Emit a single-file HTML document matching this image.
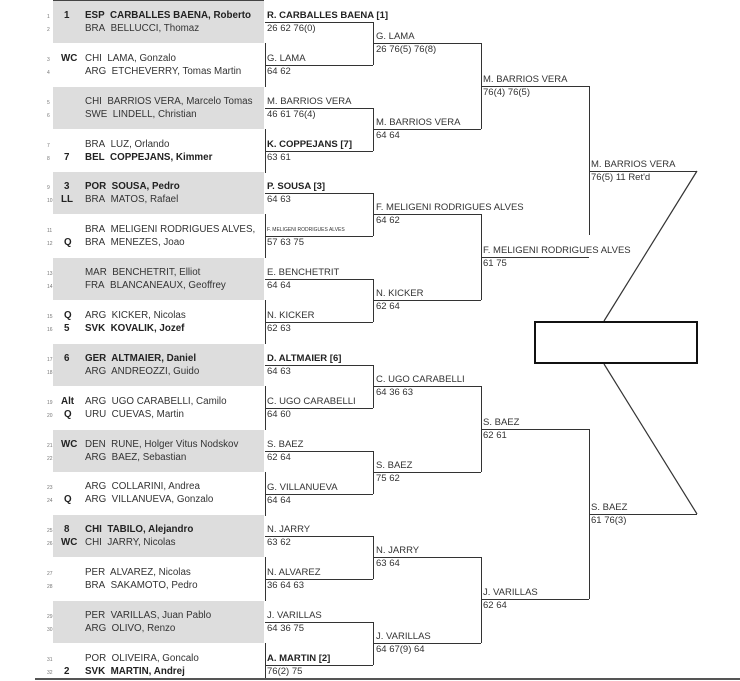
<!DOCTYPE html>
<html><head><meta charset="utf-8"><style>
*{margin:0;padding:0;box-sizing:border-box}
body{width:740px;height:681px;background:#fff;position:relative;overflow:hidden;font-family:"Liberation Sans",sans-serif;color:#333}
.t{position:absolute;font-size:9.5px;line-height:12px;white-space:nowrap}
.p{font-size:9.8px}
.n{position:absolute;font-size:5px;color:#777;line-height:6px}
.b{font-weight:bold;color:#222}
.band{position:absolute;left:53px;width:211px;height:42px;background:#ddd}
.h{position:absolute;height:0;border-top:1.3px solid #333}
.v{position:absolute;width:0;border-left:1.3px solid #333}
</style></head><body>
<div style="position:absolute;left:53px;top:0;width:211px;height:2px;background:#444"></div>
<div id="c"></div>
<div style="position:absolute;left:35px;top:678px;width:705px;height:3px;background:#fff;border-top:2px solid #555"></div>
<svg style="position:absolute;left:0;top:0" width="740" height="681">
<line x1="697" y1="171" x2="604" y2="321" stroke="#333" stroke-width="1.2"/>
<line x1="604" y1="364" x2="697" y2="514" stroke="#333" stroke-width="1.2"/>
<rect x="535" y="322" width="162" height="41" fill="none" stroke="#111" stroke-width="2"/>
</svg>
<script>
var P=[["1","ESP","CARBALLES BAENA, Roberto",1],["","BRA","BELLUCCI, Thomaz",0],["WC","CHI","LAMA, Gonzalo",0],["","ARG","ETCHEVERRY, Tomas Martin",0],
["","CHI","BARRIOS VERA, Marcelo Tomas",0],["","SWE","LINDELL, Christian",0],["","BRA","LUZ, Orlando",0],["7","BEL","COPPEJANS, Kimmer",1],
["3","POR","SOUSA, Pedro",1],["LL","BRA","MATOS, Rafael",0],["","BRA","MELIGENI RODRIGUES ALVES,",0],["Q","BRA","MENEZES, Joao",0],
["","MAR","BENCHETRIT, Elliot",0],["","FRA","BLANCANEAUX, Geoffrey",0],["Q","ARG","KICKER, Nicolas",0],["5","SVK","KOVALIK, Jozef",1],
["6","GER","ALTMAIER, Daniel",1],["","ARG","ANDREOZZI, Guido",0],["Alt","ARG","UGO CARABELLI, Camilo",0],["Q","URU","CUEVAS, Martin",0],
["WC","DEN","RUNE, Holger Vitus Nodskov",0],["","ARG","BAEZ, Sebastian",0],["","ARG","COLLARINI, Andrea",0],["Q","ARG","VILLANUEVA, Gonzalo",0],
["8","CHI","TABILO, Alejandro",1],["WC","CHI","JARRY, Nicolas",0],["","PER","ALVAREZ, Nicolas",0],["","BRA","SAKAMOTO, Pedro",0],
["","PER","VARILLAS, Juan Pablo",0],["","ARG","OLIVO, Renzo",0],["","POR","OLIVEIRA, Goncalo",0],["2","SVK","MARTIN, Andrej",1]];
var R1=[["R. CARBALLES BAENA [1]","26 62 76(0)",1],["G. LAMA","64 62"],["M. BARRIOS VERA","46 61 76(4)"],["K. COPPEJANS [7]","63 61",1],
["P. SOUSA [3]","64 63",1],["F. MELIGENI RODRIGUES ALVES","57 63 75",2],["E. BENCHETRIT","64 64"],["N. KICKER","62 63"],
["D. ALTMAIER [6]","64 63",1],["C. UGO CARABELLI","64 60"],["S. BAEZ","62 64"],["G. VILLANUEVA","64 64"],
["N. JARRY","63 62"],["N. ALVAREZ","36 64 63"],["J. VARILLAS","64 36 75"],["A. MARTIN [2]","76(2) 75",1]];
var R2=[["G. LAMA","26 76(5) 76(8)"],["M. BARRIOS VERA","64 64"],["F. MELIGENI RODRIGUES ALVES","64 62"],["N. KICKER","62 64"],
["C. UGO CARABELLI","64 36 63"],["S. BAEZ","75 62"],["N. JARRY","63 64"],["J. VARILLAS","64 67(9) 64"]];
var R3=[["M. BARRIOS VERA","76(4) 76(5)",86],["F. MELIGENI RODRIGUES ALVES","61 75",257],["S. BAEZ","62 61",429],["J. VARILLAS","62 64",599]];
var h="";
function t(x,y,s,c){h+='<div class="t'+(c?' '+c:'')+'" style="left:'+x+'px;top:'+(y-6)+'px">'+s+'</div>';}
function hl(x1,x2,y){h+='<div class="h" style="left:'+x1+'px;width:'+(x2-x1)+'px;top:'+y+'px"></div>';}
function vl(x,y1,y2){h+='<div class="v" style="left:'+x+'px;top:'+y1+'px;height:'+(y2-y1)+'px"></div>';}
for(var k=0;k<8;k++){h+='<div class="band" style="top:'+(1+85.7*k)+'px"></div>';vl(265,43+85.7*k,Math.min(87+85.7*k,678));}
for(var i=0;i<32;i++){var m=Math.floor(i/2),y=(i%2?29:16)+42.85*m,p=P[i];
h+='<div class="n" style="left:47px;top:'+(y-2)+'px">'+(i+1)+'</div>';
if(p[0])t(p[0].length>1?61:64,y,p[0],'b p');
t(85,y,p[1]+'&nbsp; '+p[2],p[3]?'b p':'p');}
for(var i=0;i<16;i++){var y=(i%2?59:16)+85.7*Math.floor(i/2),r=R1[i];
if(r[2]==2)h+='<div class="t" style="left:267px;top:'+(y-3)+'px;font-size:5px;line-height:6px">'+r[0]+'</div>';
else t(267,y,r[0],r[2]?'b':'');
t(267,y+13,r[1]);hl(265,373,y+6);}
for(var j=0;j<8;j++)vl(373,22+85.7*j,65+85.7*j);
for(var i=0;i<8;i++){var y=(i%2?123:37)+171.4*Math.floor(i/2);t(376,y,R2[i][0]);t(376,y+13,R2[i][1]);hl(373,481,y+6);}
for(var j=0;j<4;j++)vl(481,43+171.4*j,129+171.4*j);
for(var i=0;i<4;i++){var y=R3[i][2];t(483,y-6,R3[i][0]);t(483,y+7,R3[i][1]);hl(481,589,y);}
vl(589,86,235);vl(589,429,599);
t(591,165,"M. BARRIOS VERA");t(591,178,"76(5) 11 Ret'd");hl(589,697,171);
t(591,508,"S. BAEZ");t(591,521,"61 76(3)");hl(589,697,514);
document.getElementById("c").innerHTML=h;
</script>
</body></html>
